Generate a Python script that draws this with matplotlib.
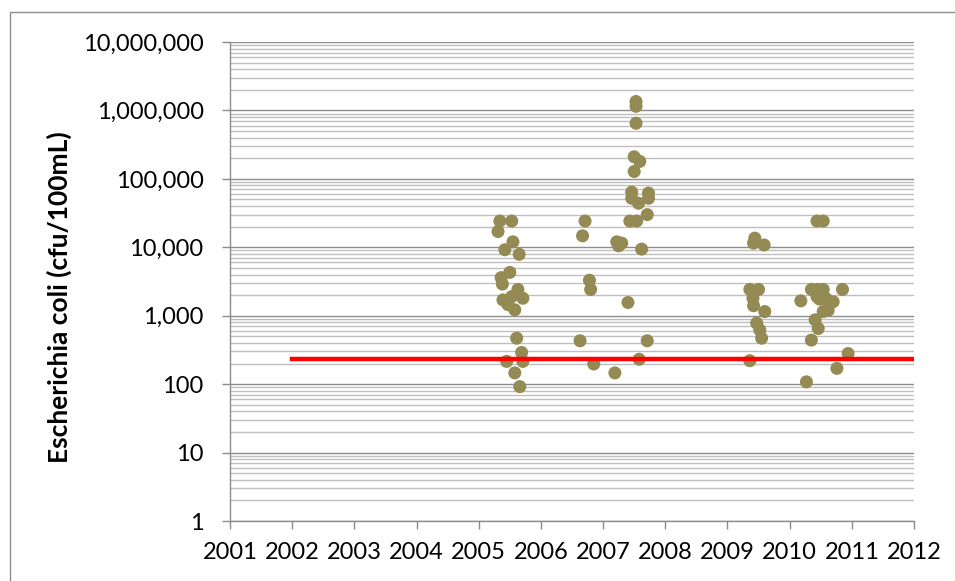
import matplotlib.pyplot as plt
import matplotlib.ticker as mticker
from matplotlib.patches import Rectangle

# E. coli results per sampling season (decimal year, cfu/100mL)
year_2005 = [2005.34, 2005.53, 2005.31, 2005.55, 2005.42, 2005.65, 2005.50,
             2005.36, 2005.38, 2005.63, 2005.71, 2005.39, 2005.47, 2005.53,
             2005.58, 2005.61, 2005.69, 2005.45, 2005.71, 2005.58, 2005.66]
ecoli_2005 = [24196, 24196, 17000, 12000, 9200, 7900, 4300,
              3600, 2900, 2420, 1800, 1700, 1450, 1900,
              1220, 470, 290, 215, 215, 146, 92]

year_2007 = [2006.71, 2006.67, 2006.78, 2006.80, 2006.63, 2006.85, 2007.19,
             2007.22, 2007.25, 2007.30, 2007.40, 2007.53, 2007.53, 2007.53,
             2007.50, 2007.59, 2007.50, 2007.46, 2007.46, 2007.57, 2007.73,
             2007.73, 2007.71, 2007.43, 2007.54, 2007.62, 2007.71, 2007.58]
ecoli_2007 = [24196, 14700, 3300, 2420, 430, 197, 146,
              12000, 10500, 11500, 1560, 1350000, 1150000, 650000,
              210000, 180000, 128000, 64000, 52000, 44000, 62000,
              52000, 30000, 24196, 24196, 9400, 430, 231]

year_2009 = [2009.44, 2009.42, 2009.59, 2009.36, 2009.50, 2009.41, 2009.42,
             2009.60, 2009.47, 2009.52, 2009.55, 2009.36]
ecoli_2009 = [13600, 11500, 10800, 2420, 2420, 1800, 1400,
              1150, 780, 620, 470, 220]

year_2010 = [2010.44, 2010.54, 2010.18, 2010.35, 2010.45, 2010.54, 2010.85,
             2010.44, 2010.70, 2010.60, 2010.54, 2010.62, 2010.41, 2010.46,
             2010.35, 2010.94, 2010.76, 2010.27, 2010.48, 2010.58]
ecoli_2010 = [24196, 24196, 1650, 2420, 2420, 2420, 2420,
              1900, 1600, 1700, 1150, 1200, 870, 650,
              440, 280, 170, 108, 1750, 1800]

# single-sample standard
std_years = [2002, 2012]
std_value = 235

year_ticks = list(range(2001, 2013))

plt.rcParams['font.family'] = ['Lato', 'DejaVu Sans']

fig = plt.figure(figsize=(9.55, 5.81), dpi=100)
ax = fig.add_axes([230 / 955, 1 - 521 / 581, 684 / 955, 479 / 581])

years = year_2005 + year_2007 + year_2009 + year_2010
ecoli = ecoli_2005 + ecoli_2007 + ecoli_2009 + ecoli_2010
ax.scatter(years, ecoli, s=88, color='#948A54', edgecolors='none', zorder=3)
ax.plot(std_years, [std_value, std_value], color='#FF0000', linewidth=3.2, zorder=4)

ax.set_yscale('log')
ax.set_ylim(1, 1e7)
ax.set_xlim(2001, 2012)
ax.set_xticks(year_ticks)
ax.set_xticklabels([str(y) for y in year_ticks])
ax.yaxis.set_major_locator(mticker.LogLocator(base=10, numticks=10))
ax.yaxis.set_minor_locator(mticker.LogLocator(base=10, subs=range(2, 10), numticks=20))
ax.yaxis.set_major_formatter(mticker.FuncFormatter(lambda v, p: f"{v:,.0f}"))
ax.yaxis.set_minor_formatter(mticker.NullFormatter())

ax.grid(which='major', axis='y', color='#8C8C8C', linewidth=1.0)
ax.grid(which='minor', axis='y', color='#BFBFBF', linewidth=1.0)
ax.set_axisbelow(True)

for side in ['top', 'right']:
    ax.spines[side].set_visible(False)
for side in ['left', 'bottom']:
    ax.spines[side].set_color('#8C8C8C')
    ax.spines[side].set_linewidth(1.0)

ax.tick_params(axis='y', which='major', length=6, width=1, color='#8C8C8C',
               pad=13, labelsize=17)
ax.tick_params(axis='y', which='minor', length=0)
ax.tick_params(axis='x', length=6, width=1, color='#8C8C8C', pad=9, labelsize=17)

ax.set_ylabel('Escherichia coli (cfu/100mL)', fontsize=19, fontweight='bold',
              labelpad=8)
ax.yaxis.label.set_y(0.468)

# outer chart border (right and bottom edges fall outside the canvas)
fig.patches.append(Rectangle((10 / 955, -10 / 581), 960 / 955, 579 / 581,
                             transform=fig.transFigure, fill=False,
                             edgecolor='#8C8C8C', linewidth=1.0))

fig.savefig('out.png', dpi=100)
